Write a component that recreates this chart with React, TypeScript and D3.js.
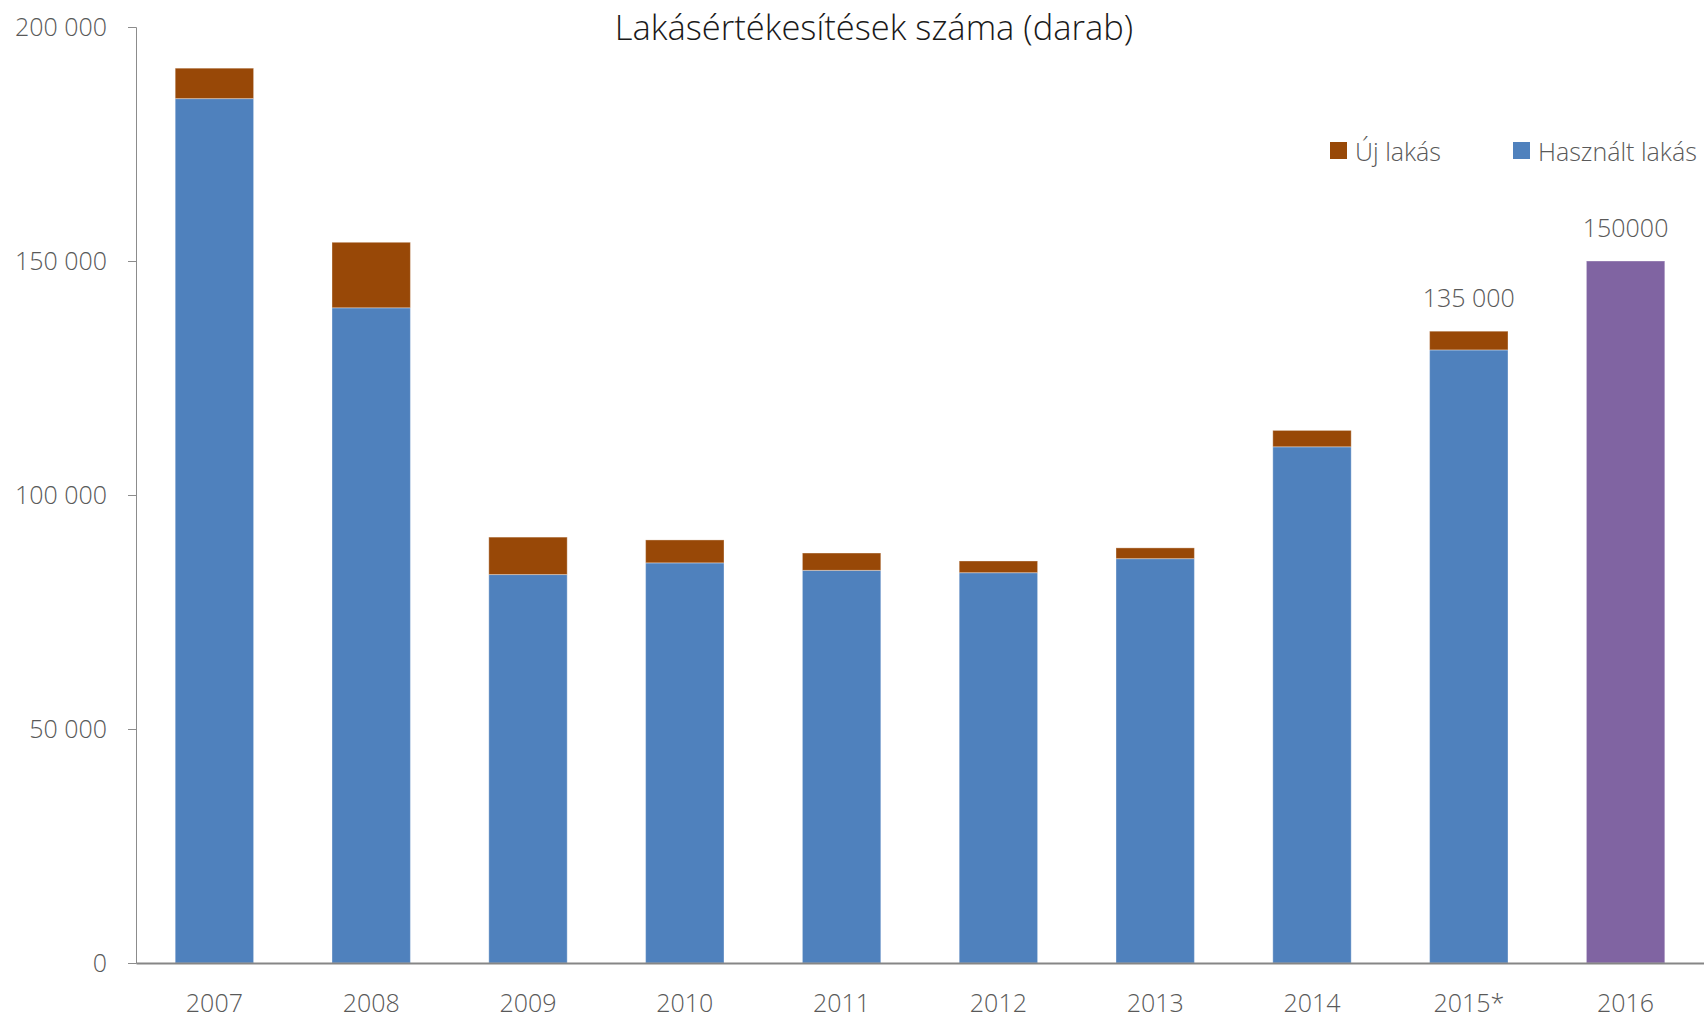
import React, { useEffect, useRef } from 'react';
import * as d3 from 'd3';

// chart data
const years = ['2007', '2008', '2009', '2010', '2011', '2012', '2013', '2014', '2015*', '2016'];
const usedFlats = [184700, 140000, 83000, 85500, 83900, 83400, 86400, 110300, 131000, 0];
const newFlats = [6500, 14000, 8000, 4900, 3700, 2500, 2300, 3500, 4000, 0];
const forecast = [0, 0, 0, 0, 0, 0, 0, 0, 0, 150000];
const topLabels = ['', '', '', '', '', '', '', '', '135 000', '150000'];
const yTicks = [0, 50000, 100000, 150000, 200000];
const seriesNames = ['Új lakás', 'Használt lakás'];

const BLUE = '#4f81bd';
const BROWN = '#984807';
const PURPLE = '#8064a2';
const FONT = "'Open Sans', 'Noto Sans', sans-serif";

function App() {
  const ref = useRef<SVGSVGElement>(null);

  useEffect(() => {
    const W = 1704, H = 1018;
    const margin = { top: 27, right: 0, bottom: 55, left: 136 };
    const height = H - margin.top - margin.bottom;

    const svg = d3.select(ref.current);
    svg.selectAll('*').remove();

    const x = d3.scaleBand().domain(years).range([margin.left, W]).paddingInner(0.5).paddingOuter(0.25);
    const y = d3.scaleLinear().domain([0, 200000]).range([margin.top + height, margin.top]);

    const rows = years.map((yr, i) => ({ year: yr, used: usedFlats[i], neu: newFlats[i], fc: forecast[i] }));
    const stack = d3.stack<any>().keys(['used', 'neu', 'fc']);
    const layers = stack(rows);
    const colors: Record<string, string> = { used: BLUE, neu: BROWN, fc: PURPLE };

    const fmt = d3.formatLocale({ decimal: ',', thousands: ' ', grouping: [3], currency: ['', ''] }).format(',d');

    // title
    svg.append('text')
      .attr('x', 874).attr('y', 40)
      .attr('text-anchor', 'middle')
      .attr('font-family', FONT).attr('font-weight', 300)
      .attr('font-size', 34.5).attr('fill', '#1a1a1a')
      .text('Lakásértékesítések száma (darab)');

    // bars
    layers.forEach(layer => {
      svg.append('g')
        .selectAll('rect')
        .data(layer.filter(d => d[1] - d[0] > 0))
        .join('rect')
        .attr('x', d => x(d.data.year)!)
        .attr('width', x.bandwidth())
        .attr('y', d => y(d[1]))
        .attr('height', d => y(d[0]) - y(d[1]))
        .attr('fill', colors[layer.key])
        .attr('stroke', 'rgba(255,255,255,0.35)')
        .attr('stroke-width', 1);
    });

    // y axis
    const yAxis = svg.append('g')
      .attr('transform', `translate(${margin.left},0)`)
      .call(d3.axisLeft(y).tickValues(yTicks).tickFormat(d => fmt(+d)).tickSize(8).tickPadding(21));
    yAxis.select('.domain').attr('stroke', '#8c8c8c').attr('stroke-width', 1);
    yAxis.selectAll('.tick line').attr('stroke', '#8c8c8c');
    yAxis.selectAll('text')
      .attr('font-family', FONT).attr('font-weight', 300)
      .attr('font-size', 25).attr('fill', '#595959');

    // x axis
    const xAxis = svg.append('g')
      .attr('transform', `translate(0,${y(0)})`)
      .call(d3.axisBottom(x).tickSize(0).tickPadding(31));
    xAxis.select('.domain').attr('stroke', '#868686').attr('stroke-width', 2);
    xAxis.selectAll('text')
      .attr('font-family', FONT).attr('font-weight', 300)
      .attr('font-size', 25).attr('fill', '#595959');

    // labels above last two bars
    svg.append('g')
      .selectAll('text')
      .data(rows.map((r, i) => ({ ...r, label: topLabels[i] })).filter(r => r.label))
      .join('text')
      .attr('x', d => x(d.year)! + x.bandwidth() / 2)
      .attr('y', d => y(d.used + d.neu + d.fc) - 24)
      .attr('text-anchor', 'middle')
      .attr('font-family', FONT).attr('font-weight', 300)
      .attr('font-size', 25).attr('fill', '#595959')
      .text(d => d.label);

    // legend
    const legend = svg.append('g').attr('transform', 'translate(1330,142)');
    const legendItems = [
      { name: seriesNames[0], color: BROWN, dx: 0 },
      { name: seriesNames[1], color: BLUE, dx: 183 },
    ];
    const li = legend.selectAll('g').data(legendItems).join('g')
      .attr('transform', d => `translate(${d.dx},0)`);
    li.append('rect').attr('width', 17).attr('height', 17).attr('fill', d => d.color);
    li.append('text')
      .attr('x', 25).attr('y', 10).attr('dy', '0.35em')
      .attr('font-family', FONT).attr('font-weight', 300)
      .attr('font-size', 25).attr('fill', '#595959')
      .text(d => d.name);
  }, []);

  return (
    <div style={{ position: 'absolute', left: 0, top: 0 }}>
      <svg ref={ref} width={1704} height={1018} style={{ display: 'block', background: '#fff' }} />
    </div>
  );
}

export default App;
